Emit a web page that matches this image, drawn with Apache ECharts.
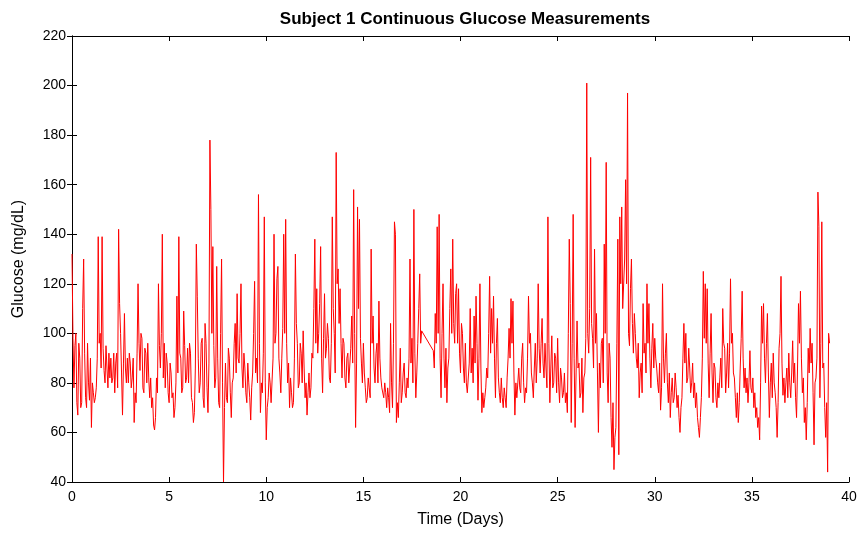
<!DOCTYPE html>
<html>
<head>
<meta charset="utf-8">
<script src="https://cdn.jsdelivr.net/npm/echarts@6/dist/echarts.min.js"></script>
<style>
html,body{margin:0;padding:0;background:#fff;}
#chart{width:865px;height:535px;}
</style>
</head>
<body>
<div id="chart"></div>
<script>
// Glucose readings (mg/dL), one every 0.05 day
var stepDays = 0.05;
var startA = 0.0;   // first recording segment: day 0 .. 18.0
var glucoseA = [
132,98,78,95,100,72,67,96,90,70,72,110,130,92,74,70,96,80,73,90,
62,80,76,72,74,78,90,139,96,100,86,139,94,85,80,95,86,78,92,82,
90,80,82,92,76,88,92,78,142,112,100,84,67,88,108,86,80,90,80,92,
88,78,82,90,64,76,72,92,120,96,85,100,98,78,76,94,92,80,96,82,
74,82,70,74,63,61,66,82,76,120,95,86,100,140,82,96,78,92,88,76,
72,88,84,74,76,66,70,80,115,84,139,92,90,76,78,109,95,80,82,94,
80,96,92,74,72,64,68,86,136,115,90,76,80,96,98,74,70,104,96,78,
68,88,178,150,100,135,95,78,82,127,90,72,70,100,130,80,40,70,88,74,
72,94,90,76,66,80,82,96,104,84,116,90,88,100,120,86,78,92,86,76,
72,88,80,74,65,78,84,100,121,84,90,80,156,96,68,80,76,92,147,80,
57,70,74,84,80,72,72,90,140,96,100,122,127,90,84,76,90,102,140,100,
146,96,80,88,70,82,76,70,72,90,132,104,96,78,80,96,92,80,101,86,
74,80,67,76,84,74,78,92,90,110,138,96,118,92,100,112,135,90,76,98,
116,90,94,104,98,82,80,96,147,110,100,84,173,120,126,104,118,96,82,98,
96,82,78,90,92,80,80,94,107,88,158,100,62,88,151,110,146,98,88,80,
96,84,78,72,74,82,78,74,134,96,107,86,80,92,96,80,113,90,82,78,
78,74,80,76,70,78,74,68,104,80,70,96,145,140,64,72,66,80,94,72,
76,84,88,76,74,82,78,90,130,88,98,80,150,92,74,84,96,110,124,96,
101
];
var startB = 18.6;  // second segment after the gap in the record
var glucoseB = [
93,86,108,96,143,100,148,90,
74,100,120,90,78,94,72,86,90,110,126,100,138,104,96,116,120,96,118,92,
84,104,100,86,80,96,80,76,76,88,110,84,94,80,107,88,115,96,73,90,
120,86,68,76,70,74,78,86,82,100,123,92,110,96,115,90,74,96,106,82,
76,72,82,74,70,78,74,70,82,90,102,90,114,96,113,84,67,80,74,80,
86,78,76,90,96,80,72,78,76,90,115,96,100,84,80,74,86,96,80,90,
120,94,84,96,106,88,82,96,86,78,147,96,72,86,99,78,80,92,90,76,
98,80,72,86,82,74,76,84,72,76,68,100,138,112,64,96,148,90,62,84,
105,86,88,74,76,90,68,82,84,98,201,100,92,110,171,104,98,86,134,96,
108,84,60,88,78,96,98,80,136,100,169,84,72,96,90,66,54,72,45,58,
62,96,138,51,147,120,151,110,110,130,162,120,197,100,95,118,130,104,92,108,
100,90,86,96,74,84,88,76,112,92,96,84,120,96,112,90,78,94,104,86,
98,90,86,80,76,88,69,78,120,90,80,92,100,80,72,84,66,76,82,72,
74,84,78,70,75,66,60,70,74,90,104,88,100,80,82,94,86,76,80,88,
74,80,70,76,66,62,58,66,74,90,125,98,120,96,118,88,74,92,108,84,
72,88,86,74,70,80,74,82,90,78,110,96,94,76,84,96,78,92,122,96,
100,84,82,74,66,76,64,72,86,98,117,90,78,86,76,82,72,80,93,78,
76,82,70,76,66,70,62,66,57,80,111,96,112,90,80,96,108,84,66,80,
88,74,92,80,76,70,58,72,94,100,123,88,75,82,72,80,86,74,92,80,
74,84,97,80,88,74,66,86,112,96,117,90,76,82,64,70,57,72,94,84,
102,88,96,76,55,80,82,90,157,143,74,96,145,86,88,70,58,72,44,100,
96
];
var xTicks = [0,5,10,15,20,25,30,35,40];
var yTicks = [40,60,80,100,120,140,160,180,200,220];
var titleText = 'Subject 1 Continuous Glucose Measurements';
var xName = 'Time (Days)';
var yName = 'Glucose (mg/dL)';

var data = [];
glucoseA.forEach(function(v, i){ data.push([+(startA + i*stepDays).toFixed(2), v]); });
glucoseB.forEach(function(v, i){ data.push([+(startB + i*stepDays).toFixed(2), v]); });

var font = 'Liberation Sans';
var axisLine = {show:true, lineStyle:{color:'#000', width:1}};
var tick = {show:true, inside:true, length:5, lineStyle:{color:'#000', width:1}};
var lbl = {color:'#000', fontSize:14, fontFamily:font};
var nameStyle = {color:'#000', fontSize:16, fontFamily:font};

var chart = echarts.init(document.getElementById('chart'), null, {renderer:'canvas'});
chart.setOption({
  animation:false,
  backgroundColor:'#fff',
  title:{text:titleText, left:460, top:6, textAlign:'center',
    textStyle:{fontFamily:font, fontSize:17, fontWeight:'bold', color:'#000'}},
  grid:{left:72, right:16, top:36, bottom:53, containLabel:false},
  xAxis:[
    {type:'value', min:xTicks[0], max:xTicks[xTicks.length-1], interval:5, position:'bottom',
     name:xName, nameLocation:'middle', nameGap:30, nameTextStyle:nameStyle,
     axisLine:axisLine, axisTick:tick, axisLabel:Object.assign({margin:8}, lbl), splitLine:{show:false}},
    {type:'value', min:xTicks[0], max:xTicks[xTicks.length-1], interval:5, position:'top',
     axisLine:axisLine, axisTick:tick, axisLabel:{show:false}, splitLine:{show:false}}
  ],
  yAxis:[
    {type:'value', min:yTicks[0], max:yTicks[yTicks.length-1], interval:20, position:'left',
     name:yName, nameLocation:'middle', nameGap:45, nameRotate:90, nameTextStyle:nameStyle,
     axisLine:axisLine, axisTick:tick, axisLabel:Object.assign({margin:6}, lbl), splitLine:{show:false}},
    {type:'value', min:yTicks[0], max:yTicks[yTicks.length-1], interval:20, position:'right',
     axisLine:axisLine, axisTick:tick, axisLabel:{show:false}, splitLine:{show:false}}
  ],
  series:[{
    type:'line', data:data, xAxisIndex:0, yAxisIndex:0,
    showSymbol:false, symbol:'none', sampling:null,
    lineStyle:{color:'#ff0000', width:1}, itemStyle:{color:'#ff0000'}
  }]
});
</script>
</body>
</html>
